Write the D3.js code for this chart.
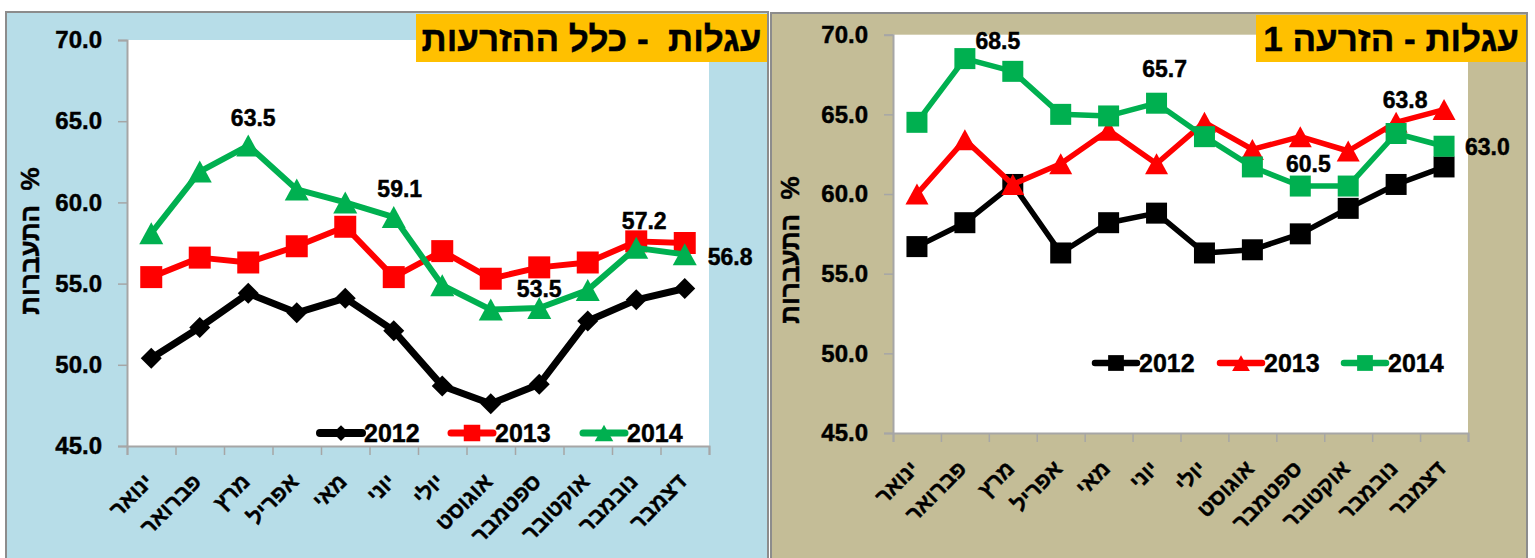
<!DOCTYPE html>
<html>
<head>
<meta charset="utf-8">
<title>עגלות - התעברות</title>
<script src="https://cdn.jsdelivr.net/npm/d3@7/dist/d3.min.js"></script>
<style>
  body { margin: 0; background: #fff; }
  text { font-family: "Liberation Sans", Arial, sans-serif; font-weight: bold; white-space: pre; stroke: #000; stroke-width: 0.45px; }
</style>
</head>
<body>
<script>
// months (x categories) and series
var months = ["ינואר","פברואר","מרץ","אפריל","מאי","יוני","יולי","אוגוסט","ספטמבר","אוקטובר","נובמבר","דצמבר"];
var years = ["2012","2013","2014"];
var yTicks = [45, 50, 55, 60, 65, 70];

// left chart - all inseminations
var all2012 = [50.4, 52.3, 54.4, 53.2, 54.1, 52.1, 48.7, 47.6, 48.8, 52.7, 54.0, 54.7];
var all2013 = [55.4, 56.6, 56.3, 57.3, 58.5, 55.4, 57.0, 55.3, 56.0, 56.3, 57.6, 57.5];
var all2014 = [58.1, 61.9, 63.5, 60.8, 60.0, 59.1, 54.9, 53.4, 53.5, 54.6, 57.2, 56.8];

// right chart - first insemination
var first2012 = [56.7, 58.2, 60.6, 56.3, 58.2, 58.8, 56.3, 56.5, 57.5, 59.1, 60.6, 61.7];
var first2013 = [60.0, 63.4, 60.6, 61.9, 64.0, 61.9, 64.5, 62.8, 63.6, 62.7, 64.5, 65.3];
var first2014 = [64.5, 68.5, 67.7, 65.0, 64.9, 65.7, 63.6, 61.7, 60.5, 60.5, 63.8, 63.0];

var W = 1535, H = 558;
var svg = d3.select("body").append("svg").attr("width", W).attr("height", H);

function markerPath(type, s) {
    var h = s / 2;
    if (type == "diamond") return "M0," + (-h) + "L" + h + ",0L0," + h + "L" + (-h) + ",0Z";
    if (type == "triangle") return "M0," + (-h) + "L" + (h + 1) + "," + h + "L" + (-h - 1) + "," + h + "Z";
    return "M" + (-h) + "," + (-h) + "H" + h + "V" + h + "H" + (-h) + "Z";
}

function drawPanel(cfg) {
    var g = svg.append("g");
    var p = cfg.plot;

    // panel background + border
    g.append("rect").attr("x", cfg.panel.x).attr("y", cfg.panel.y)
        .attr("width", cfg.panel.w).attr("height", cfg.panel.h)
        .attr("fill", cfg.bg).attr("stroke", "#8c8c8c").attr("stroke-width", 2);
    // white plot area
    g.append("rect").attr("x", p.l).attr("y", p.t)
        .attr("width", p.r - p.l).attr("height", p.b - p.t).attr("fill", "#fff");

    var y = d3.scaleLinear().domain([45, 70]).range([p.b, p.t]);
    var x = d3.scaleBand().domain(d3.range(months.length)).range([p.l, p.r]);
    var xb = d3.scaleLinear().domain([0, months.length]).range([p.l, p.r]);

    // axes
    var ya = g.append("g").attr("transform", "translate(" + p.l + ",0)")
        .call(d3.axisLeft(y).tickValues(yTicks).tickFormat(d3.format(".1f")).tickSize(9).tickPadding(16));
    var xa = g.append("g").attr("transform", "translate(0," + p.b + ")")
        .call(d3.axisBottom(xb).tickValues(d3.range(months.length + 1)).tickFormat("").tickSize(9));
    [ya, xa].forEach(function (a) {
        a.select(".domain").attr("stroke", "#a6a6a6").attr("stroke-width", 2);
        a.selectAll(".tick line").attr("stroke", "#a6a6a6").attr("stroke-width", 1.5);
    });
    ya.selectAll(".tick text").attr("font-size", 24).attr("fill", "#000")
        .attr("font-family", "Liberation Sans, Arial, sans-serif").attr("font-weight", "bold");

    // month labels, rotated
    g.selectAll("text.month").data(months).enter().append("text")
        .attr("class", "month")
        .attr("transform", function (d, i) {
            return "translate(" + (x(i) + x.bandwidth() / 2 + 3) + "," + (p.b + 37) + ") rotate(-45)";
        })
        .attr("text-anchor", "end").attr("font-size", 22).attr("fill", "#000")
        .text(function (d) { return d; });

    // y title
    g.append("text")
        .attr("transform", "translate(" + cfg.ytitle[0] + "," + cfg.ytitle[1] + ") rotate(-90)")
        .attr("text-anchor", "middle").attr("dy", "0.35em")
        .attr("font-size", 26).attr("fill", "#000")
        .text("התעברות  %");

    // series
    var line = d3.line().x(function (d, i) { return x(i) + x.bandwidth() / 2; }).y(function (d) { return y(d); });
    cfg.series.forEach(function (s) {
        g.append("path").datum(s.values).attr("d", line)
            .attr("fill", "none").attr("stroke", s.color).attr("stroke-width", s.width)
            .attr("stroke-linejoin", "round");
        g.selectAll(null).data(s.values).enter().append("path")
            .attr("d", markerPath(s.marker, s.size))
            .attr("transform", function (d, i) { return "translate(" + (x(i) + x.bandwidth() / 2) + "," + y(d) + ")"; })
            .attr("fill", s.color);
    });

    // data labels
    cfg.labels.forEach(function (lb) {
        var v = cfg.series[lb.s].values[lb.i];
        g.append("text")
            .attr("x", x(lb.i) + x.bandwidth() / 2 + lb.dx)
            .attr("y", y(v) + lb.dy)
            .attr("text-anchor", lb.anchor || "middle")
            .attr("font-size", 23).attr("fill", "#000")
            .text(d3.format(".1f")(v));
    });

    // legend
    cfg.series.forEach(function (s, k) {
        var x0 = cfg.legend.xs[k], ly = cfg.legend.y;
        g.append("line").attr("x1", x0).attr("x2", x0 + 42).attr("y1", ly).attr("y2", ly)
            .attr("stroke", s.color).attr("stroke-width", s.width + 1).attr("stroke-linecap", "round");
        g.append("path").attr("d", markerPath(s.marker, s.size * 0.75))
            .attr("transform", "translate(" + (x0 + 21) + "," + ly + ")").attr("fill", s.color);
        g.append("text").attr("x", x0 + 44).attr("y", ly).attr("dy", "0.36em")
            .attr("font-size", 25).attr("fill", "#000").text(years[k]);
    });

    // title box
    var t = cfg.title;
    g.append("rect").attr("x", t.x).attr("y", t.y).attr("width", t.w).attr("height", t.h).attr("fill", "#ffc000");
    g.append("text").attr("x", t.x + t.w / 2).attr("y", t.y + t.h / 2).attr("dy", "0.36em")
        .attr("text-anchor", "middle").attr("font-size", 35).attr("fill", "#000").text(t.text);
}

drawPanel({
    panel: { x: 6, y: 12, w: 762, h: 560 },
    bg: "#b7dde8",
    plot: { l: 127, t: 40, r: 709, b: 446 },
    ytitle: [30, 241],
    title: { x: 416, y: 14, w: 351, h: 48, text: "עגלות  - כלל ההזרעות" },
    legend: { y: 433, xs: [320, 451, 583] },
    series: [
        { values: all2012, color: "#000000", marker: "diamond", size: 21, width: 7 },
        { values: all2013, color: "#ff0000", marker: "square", size: 22, width: 6 },
        { values: all2014, color: "#00b050", marker: "triangle", size: 22, width: 6 }
    ],
    labels: [
        { s: 2, i: 2, dx: 5, dy: -20 },
        { s: 2, i: 5, dx: 6, dy: -20 },
        { s: 2, i: 8, dx: 0, dy: -11 },
        { s: 2, i: 10, dx: 8, dy: -19 },
        { s: 2, i: 11, dx: 23, dy: 11, anchor: "start" }
    ]
});

drawPanel({
    panel: { x: 771, y: 13, w: 756, h: 560 },
    bg: "#c4bd97",
    plot: { l: 893, t: 34.7, r: 1468, b: 433 },
    ytitle: [790, 250],
    title: { x: 1256, y: 15, w: 270, h: 47, text: "עגלות - הזרעה 1" },
    legend: { y: 363, xs: [1095, 1220, 1344] },
    series: [
        { values: first2012, color: "#000000", marker: "square", size: 21, width: 5.5 },
        { values: first2013, color: "#ff0000", marker: "triangle", size: 21, width: 5.5 },
        { values: first2014, color: "#00b050", marker: "square", size: 21, width: 5.5 }
    ],
    labels: [
        { s: 2, i: 1, dx: 33, dy: -10 },
        { s: 2, i: 5, dx: 8, dy: -26 },
        { s: 2, i: 8, dx: 8, dy: -14 },
        { s: 2, i: 10, dx: 9, dy: -25 },
        { s: 2, i: 11, dx: 21, dy: 9, anchor: "start" }
    ]
});
</script>
</body>
</html>
